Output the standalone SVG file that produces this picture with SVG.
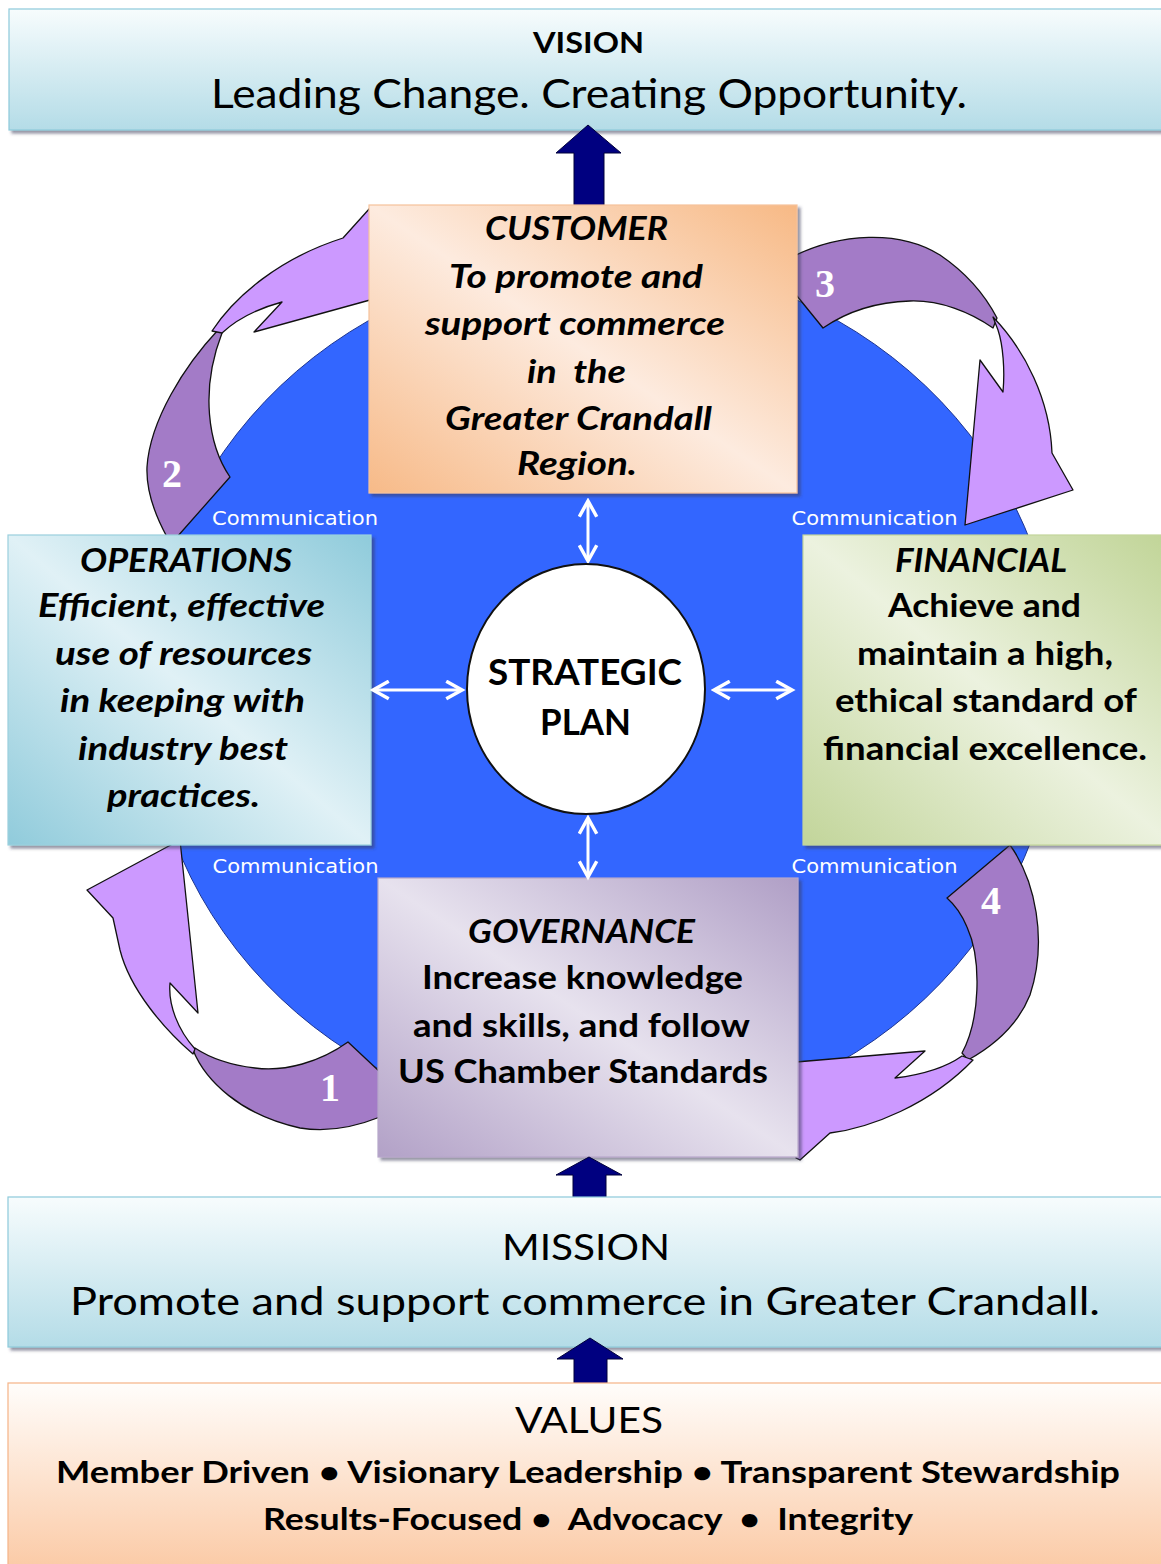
<svg xmlns="http://www.w3.org/2000/svg" width="1161" height="1564" viewBox="0 0 1161 1564">
  <defs>
    <linearGradient id="gBlueBand" x1="0" y1="0" x2="0" y2="1">
      <stop offset="0" stop-color="#f7fcfd"/>
      <stop offset="1" stop-color="#b4dce7"/>
    </linearGradient>
    <linearGradient id="gPeachBand" x1="0" y1="0" x2="0" y2="1">
      <stop offset="0" stop-color="#fffdfb"/>
      <stop offset="1" stop-color="#fbc9a4"/>
    </linearGradient>
    <linearGradient id="gCustomer" x1="1" y1="0" x2="0" y2="1">
      <stop offset="0" stop-color="#f7b985"/>
      <stop offset="0.5" stop-color="#fdebdf"/>
      <stop offset="1" stop-color="#f7ba88"/>
    </linearGradient>
    <linearGradient id="gOperations" x1="1" y1="0" x2="0" y2="1">
      <stop offset="0" stop-color="#8fcbdb"/>
      <stop offset="0.5" stop-color="#e0f1f6"/>
      <stop offset="1" stop-color="#90cbdb"/>
    </linearGradient>
    <linearGradient id="gFinancial" x1="1" y1="0" x2="0" y2="1">
      <stop offset="0" stop-color="#c0d496"/>
      <stop offset="0.5" stop-color="#ecf2df"/>
      <stop offset="1" stop-color="#c2d59a"/>
    </linearGradient>
    <linearGradient id="gGovernance" x1="1" y1="0" x2="0" y2="1">
      <stop offset="0" stop-color="#b09fc6"/>
      <stop offset="0.5" stop-color="#e7e2ee"/>
      <stop offset="1" stop-color="#b2a1c7"/>
    </linearGradient>
    <filter id="shadow" x="-5%" y="-5%" width="110%" height="115%">
      <feDropShadow dx="3" dy="3" stdDeviation="1.5" flood-color="#3a3a5a" flood-opacity="0.55"/>
    </filter>
    <marker id="whiteHead" viewBox="0 0 12 12" refX="10" refY="6" markerWidth="7" markerHeight="7" orient="auto-start-reverse" markerUnits="strokeWidth">
      <path d="M1,1 L10,6 L1,11" fill="none" stroke="#ffffff" stroke-width="2"/>
    </marker>
  </defs>
  <style>
    .band { stroke-width: 1.2; filter: url(#shadow); }
    .blueBand { fill: url(#gBlueBand); stroke: #8ecadb; }
    .peachBand { fill: url(#gPeachBand); stroke: #f6b486; }
    .box { stroke-width: 1.2; filter: url(#shadow); }
    .lbl { font-family: Lato, "Liberation Sans", sans-serif; fill: #000000; text-anchor: middle; }
    .bi { font-weight: bold; font-style: italic; font-size: 33px; }
    .b { font-weight: bold; font-size: 33px; }
    .comm { font-family: "DejaVu Sans", "Noto Sans", sans-serif; font-size: 19px; fill: #ffffff; text-anchor: middle; }
    .num { font-family: "Liberation Serif", serif; font-weight: bold; font-size: 40px; fill: #ffffff; text-anchor: middle; }
    .navy { fill: #000080; stroke: #00003a; stroke-width: 1; }
    .lightArc { fill: #cc99ff; stroke: #111111; stroke-width: 1.3; stroke-linejoin: round; }
    .darkArc { fill: #a37bc7; stroke: #111111; stroke-width: 1.3; stroke-linejoin: round; }
    .link { stroke: #ffffff; stroke-width: 3; fill: none; marker-start: url(#whiteHead); marker-end: url(#whiteHead); }
  </style>

  <!-- Vision band -->
  <g id="vision">
    <rect class="band blueBand" x="9" y="9" width="1160" height="121"/>
    <text class="lbl" x="588.5" y="53" font-size="29" font-weight="bold" textLength="111" lengthAdjust="spacingAndGlyphs">VISION</text>
    <text class="lbl" x="589" y="108" font-size="40" textLength="756" lengthAdjust="spacingAndGlyphs">Leading Change. Creating Opportunity.</text>
  </g>

  <!-- Vertical flow arrow into vision -->
  <g id="arrow-to-vision">
    <path class="navy" d="M574,206 L574,153 L556,153 L588,125 L621,153 L604,153 L604,206 Z"/>
  </g>

  <!-- Blue field behind the four perspectives -->
  <g id="field">
    <ellipse cx="603" cy="692" rx="456" ry="433" fill="#3366ff" stroke="#1d3590" stroke-width="1"/>
  </g>

  <!-- Cycle arrows 1 to 4 -->
  <g id="cycle-arrows">
    <g id="cycle-2">
      <path class="darkArc" d="M218,330 C185,365 150,420 147,467 C146,492 155,515 167,537 L177,537 L230,477 C208,445 200,390 222,333 Z"/>
      <path class="lightArc" d="M212,331 C235,296 280,258 343,238 L370,208 L430,255 L370,300 L254,332 L282,302 C260,308 238,318 222,333 Z"/>
      <text class="num" x="172" y="487">2</text>
    </g>
    <g id="cycle-3">
      <path class="darkArc" d="M790,258 C840,232 900,230 940,255 C965,272 985,295 997,318 L993,328 C970,312 940,300 910,301 C875,302 845,313 823,328 L797,296 L790,296 Z"/>
      <path class="lightArc" d="M993,317 C1025,350 1050,400 1052,453 L1073,490 L965,525 L980,360 L1003,392 C1005,370 1003,345 998,330 Z"/>
      <text class="num" x="825" y="297">3</text>
    </g>
    <g id="cycle-4">
      <path class="darkArc" d="M1010,845 C1035,880 1048,940 1030,995 C1018,1025 995,1045 968,1060 L962,1053 C980,1020 982,960 967,927 C962,915 955,905 947,898 Z"/>
      <path class="lightArc" d="M962,1056 C945,1068 920,1075 895,1078 L925,1051 L796,1062 L796,1158 L800,1160 L830,1133 C870,1128 930,1105 973,1060 Z"/>
      <text class="num" x="991" y="914">4</text>
    </g>
    <g id="cycle-1">
      <path class="darkArc" d="M193,1050 C205,1080 240,1115 300,1128 C330,1133 360,1125 380,1117 L380,1072 L348,1042 C320,1062 285,1072 255,1068 C230,1065 210,1058 195,1048 Z"/>
      <path class="lightArc" d="M180,840 L198,1013 L170,983 C168,1005 178,1030 195,1049 L193,1054 C165,1030 130,990 120,950 L113,918 L87,890 Z"/>
      <text class="num" x="330" y="1101">1</text>
    </g>
  </g>

  <!-- Perspective boxes -->
  <g id="customer">
    <rect class="box" x="369" y="205" width="428" height="288" fill="url(#gCustomer)" stroke="#f6c29b"/>
    <text class="lbl bi" x="576.5" y="240" textLength="183" lengthAdjust="spacingAndGlyphs">CUSTOMER</text>
    <text class="lbl bi" x="576" y="288" textLength="254" lengthAdjust="spacingAndGlyphs">To promote and</text>
    <text class="lbl bi" x="575" y="335" textLength="300" lengthAdjust="spacingAndGlyphs">support commerce</text>
    <text class="lbl bi" x="576.5" y="383" textLength="99" lengthAdjust="spacingAndGlyphs" xml:space="preserve">in  the</text>
    <text class="lbl bi" x="578.5" y="430" textLength="267" lengthAdjust="spacingAndGlyphs">Greater Crandall</text>
    <text class="lbl bi" x="577" y="475" textLength="120" lengthAdjust="spacingAndGlyphs">Region.</text>
  </g>

  <g id="operations">
    <rect class="box" x="8" y="535" width="363" height="310" fill="url(#gOperations)" stroke="#9ad0de"/>
    <text class="lbl bi" x="186" y="572" textLength="212" lengthAdjust="spacingAndGlyphs">OPERATIONS</text>
    <text class="lbl bi" x="181.5" y="617" textLength="287" lengthAdjust="spacingAndGlyphs">Efficient, effective</text>
    <text class="lbl bi" x="183.5" y="665" textLength="257" lengthAdjust="spacingAndGlyphs">use of resources</text>
    <text class="lbl bi" x="182.5" y="712" textLength="245" lengthAdjust="spacingAndGlyphs">in keeping with</text>
    <text class="lbl bi" x="183" y="760" textLength="210" lengthAdjust="spacingAndGlyphs">industry best</text>
    <text class="lbl bi" x="183.5" y="807" textLength="153" lengthAdjust="spacingAndGlyphs">practices.</text>
  </g>

  <g id="financial">
    <rect class="box" x="803" y="535" width="370" height="310" fill="url(#gFinancial)" stroke="#c3d69b"/>
    <text class="lbl bi" x="981" y="572" textLength="172" lengthAdjust="spacingAndGlyphs">FINANCIAL</text>
    <text class="lbl b" x="984.5" y="617" textLength="193" lengthAdjust="spacingAndGlyphs">Achieve and</text>
    <text class="lbl b" x="985" y="665" textLength="256" lengthAdjust="spacingAndGlyphs">maintain a high,</text>
    <text class="lbl b" x="986" y="712" textLength="302" lengthAdjust="spacingAndGlyphs">ethical standard of</text>
    <text class="lbl b" x="985" y="760" textLength="324" lengthAdjust="spacingAndGlyphs">financial excellence.</text>
  </g>

  <g id="governance">
    <rect class="box" x="378" y="878" width="420" height="279" fill="url(#gGovernance)" stroke="#b7a7cb"/>
    <text class="lbl bi" x="581.5" y="943" textLength="227" lengthAdjust="spacingAndGlyphs">GOVERNANCE</text>
    <text class="lbl b" x="582.5" y="989" textLength="321" lengthAdjust="spacingAndGlyphs">Increase knowledge</text>
    <text class="lbl b" x="581.5" y="1037" textLength="337" lengthAdjust="spacingAndGlyphs">and skills, and follow</text>
    <text class="lbl b" x="583" y="1083" textLength="370" lengthAdjust="spacingAndGlyphs">US Chamber Standards</text>
  </g>

  <!-- Two-way links between the plan and each perspective -->
  <g id="links">
    <line class="link" x1="588" y1="501" x2="588" y2="561"/>
    <line class="link" x1="588" y1="818" x2="588" y2="877"/>
    <line class="link" x1="373" y1="690" x2="462" y2="690"/>
    <line class="link" x1="714" y1="690" x2="792" y2="690"/>
  </g>

  <g id="strategic-plan">
    <ellipse cx="586" cy="689" rx="119" ry="125" fill="#ffffff" stroke="#111111" stroke-width="2"/>
    <text class="lbl" x="585" y="685" font-size="37" font-weight="bold" textLength="194" lengthAdjust="spacingAndGlyphs">STRATEGIC</text>
    <text class="lbl" x="585.5" y="735" font-size="37" font-weight="bold" textLength="91" lengthAdjust="spacingAndGlyphs">PLAN</text>
  </g>

  <g id="communication-labels">
    <text class="comm" x="295" y="525" textLength="166" lengthAdjust="spacingAndGlyphs">Communication</text>
    <text class="comm" x="874.5" y="525" textLength="166" lengthAdjust="spacingAndGlyphs">Communication</text>
    <text class="comm" x="295.5" y="873" textLength="166" lengthAdjust="spacingAndGlyphs">Communication</text>
    <text class="comm" x="874.5" y="873" textLength="166" lengthAdjust="spacingAndGlyphs">Communication</text>
  </g>

  <g id="arrow-to-governance">
    <path class="navy" d="M573,1198 L573,1175 L556,1175 L589,1157 L622,1175 L606,1175 L606,1198 Z"/>
  </g>

  <!-- Mission band -->
  <g id="mission">
    <rect class="band blueBand" x="8" y="1197" width="1160" height="150"/>
    <text class="lbl" x="586" y="1260" font-size="37" textLength="168" lengthAdjust="spacingAndGlyphs">MISSION</text>
    <text class="lbl" x="585" y="1315" font-size="38" textLength="1030" lengthAdjust="spacingAndGlyphs">Promote and support commerce in Greater Crandall.</text>
  </g>

  <g id="arrow-to-mission">
    <path class="navy" d="M574,1384 L574,1359 L557,1359 L590,1338 L623,1359 L607,1359 L607,1384 Z"/>
  </g>

  <!-- Values band -->
  <g id="values">
    <rect class="band peachBand" x="8" y="1383" width="1160" height="190"/>
    <text class="lbl" x="589" y="1433" font-size="36" textLength="148" lengthAdjust="spacingAndGlyphs">VALUES</text>
    <text class="lbl" x="588" y="1483" font-size="30" font-weight="bold" textLength="1064" lengthAdjust="spacingAndGlyphs">Member Driven • Visionary Leadership • Transparent Stewardship</text>
    <text class="lbl" x="588" y="1530" font-size="30" font-weight="bold" textLength="650" lengthAdjust="spacingAndGlyphs" xml:space="preserve">Results-Focused •  Advocacy  •  Integrity</text>
  </g>
</svg>
